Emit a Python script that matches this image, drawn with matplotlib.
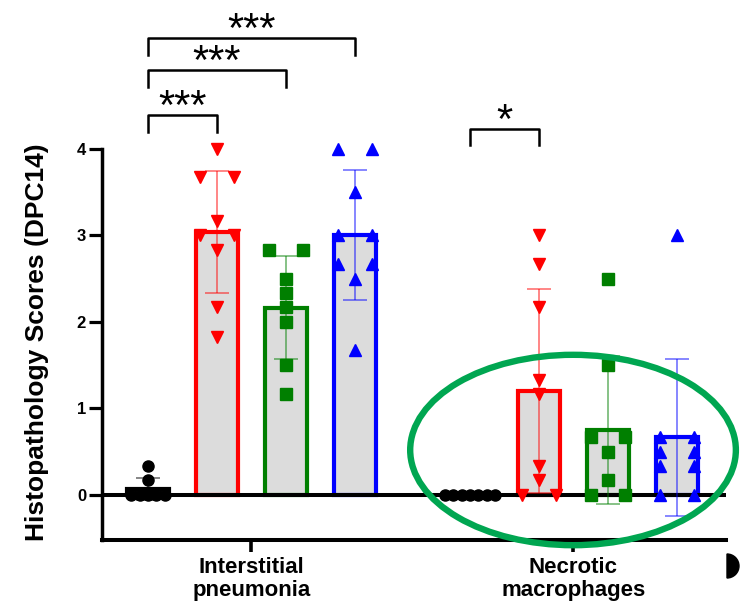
import numpy as np
import matplotlib
matplotlib.use("Agg")
import matplotlib.pyplot as plt
from matplotlib.patches import Ellipse, Wedge

plt.rcParams['font.family'] = ['Liberation Sans', 'DejaVu Sans']

# ---- data -------------------------------------------------------------
categories = ["Interstitial\npneumonia", "Necrotic\nmacrophages"]
group_colors = ["black", "#ff0000", "#007f00", "#0000ff"]
group_markers = ["o", "v", "s", "^"]

# individual histopathology scores (DPC14), one list per group
pneumonia_scores = [
    [0, 0, 0, 0, 0, 0.17, 0.33],
    [4, 3.67, 3.67, 3.17, 3, 3, 2.83, 2.17, 1.83],
    [2.83, 2.83, 2.5, 2.33, 2.17, 2.0, 1.5, 1.17],
    [4, 4, 3.5, 3, 3, 2.67, 2.67, 2.5, 1.67],
]
necrotic_scores = [
    [0, 0, 0, 0, 0, 0, 0],
    [3, 2.67, 2.17, 1.33, 1.17, 0.33, 0.17, 0, 0],
    [2.5, 1.5, 0.67, 0.67, 0.5, 0.17, 0, 0],
    [3, 0.67, 0.67, 0.5, 0.5, 0.33, 0.33, 0, 0],
]

# significance brackets: (category, group a, group b, label)
comparisons = [
    (0, 0, 1, "***"),
    (0, 0, 2, "***"),
    (0, 0, 3, "***"),
    (1, 0, 1, "*"),
]

# ---- layout -----------------------------------------------------------
W, H, DPI = 740, 608, 100
category_start = [0.0, 4 + 2 / 3]
bar_width = 0.6
bracket_heights = [4.39, 4.91, 5.28, 4.23]
bracket_leg = 0.19


def spread(values):
    """Horizontal offsets so that tied scores sit side by side."""
    values = np.asarray(values, dtype=float)
    offs = np.zeros(len(values))
    for v in np.unique(values):
        idx = np.where(np.isclose(values, v))[0]
        n = len(idx)
        if n == 2:
            offs[idx] = [-0.25, 0.25]
        elif n > 2:
            offs[idx] = (np.arange(n) - (n - 1) / 2) * 0.12
    return offs


fig = plt.figure(figsize=(W / DPI, H / DPI), dpi=DPI)
ax = fig.add_axes([102 / W, 68 / H, (726 - 102) / W, 1 - 68 / H])
ax.set_xlim(-2 / 3, 8.377)
ax.set_ylim(-0.52, 5.72)

for cat, scores in enumerate([pneumonia_scores, necrotic_scores]):
    for g, vals in enumerate(scores):
        vals = np.asarray(vals, dtype=float)
        x = category_start[cat] + g
        mean = vals.mean()
        sd = vals.std(ddof=1)
        col = group_colors[g]
        ax.bar(x, mean, width=bar_width, color="#dcdcdc", edgecolor=col,
               linewidth=3.0, zorder=2)
        if sd > 0:
            ax.errorbar(x, mean, yerr=sd, fmt="none", ecolor=col, alpha=0.6,
                        elinewidth=1.1, capsize=8.5, capthick=1.1, zorder=3)
        ax.plot(x + spread(vals), vals, linestyle="none",
                marker=group_markers[g], color=col,
                markersize=8 if g == 0 else 9.2, zorder=4, clip_on=False)

# zero reference line
ax.axhline(0, color="black", linewidth=2.9, zorder=2.5)

# significance brackets
for (cat, a, b, label), yb in zip(comparisons, bracket_heights):
    xa = category_start[cat] + a
    xb = category_start[cat] + b
    ax.plot([xa, xa, xb, xb], [yb - bracket_leg, yb, yb, yb - bracket_leg],
            color="black", linewidth=1.8, clip_on=False, zorder=5)
    ax.annotate(label, xy=((xa + xb) / 2, yb), xytext=(0, -4),
                textcoords="offset pixels", ha="center", va="baseline",
                fontsize=30, color="black", annotation_clip=False)

# axes styling
for side in ["top", "right"]:
    ax.spines[side].set_visible(False)
ax.spines["left"].set_linewidth(2.5)
ax.spines["bottom"].set_linewidth(2.9)
ax.spines["left"].set_bounds(-0.52, 4)
ax.set_yticks([0, 1, 2, 3, 4])
ax.set_yticklabels(["0", "1", "2", "3", "4"], fontsize=12, fontweight="bold")
ax.tick_params(axis="y", length=9.5, width=2.3, pad=2)
ax.set_xticks([category_start[0] + 1.5, category_start[1] + 1.5])
ax.set_xticklabels(categories, fontsize=16, fontweight="bold", linespacing=1.1)
ax.tick_params(axis="x", length=8.5, width=2.6, pad=4)

fig.text(37 / W, 1 - 342 / H, "Histopathology Scores (DPC14)", rotation=90,
         ha="center", va="center", fontsize=19, fontweight="bold")

# highlight around the necrotic macrophage groups
ax.add_patch(Ellipse((6.16, 0.52), 4.72, 2.2, fill=False, edgecolor="#00a651",
                     linewidth=4.6, zorder=6, clip_on=False))

# partially visible round marker at the right edge
fig.add_artist(Wedge((7.27, 0.42), 0.12, -90, 90,
                     transform=fig.dpi_scale_trans, color="black"))

fig.savefig("out.png", dpi=DPI)
